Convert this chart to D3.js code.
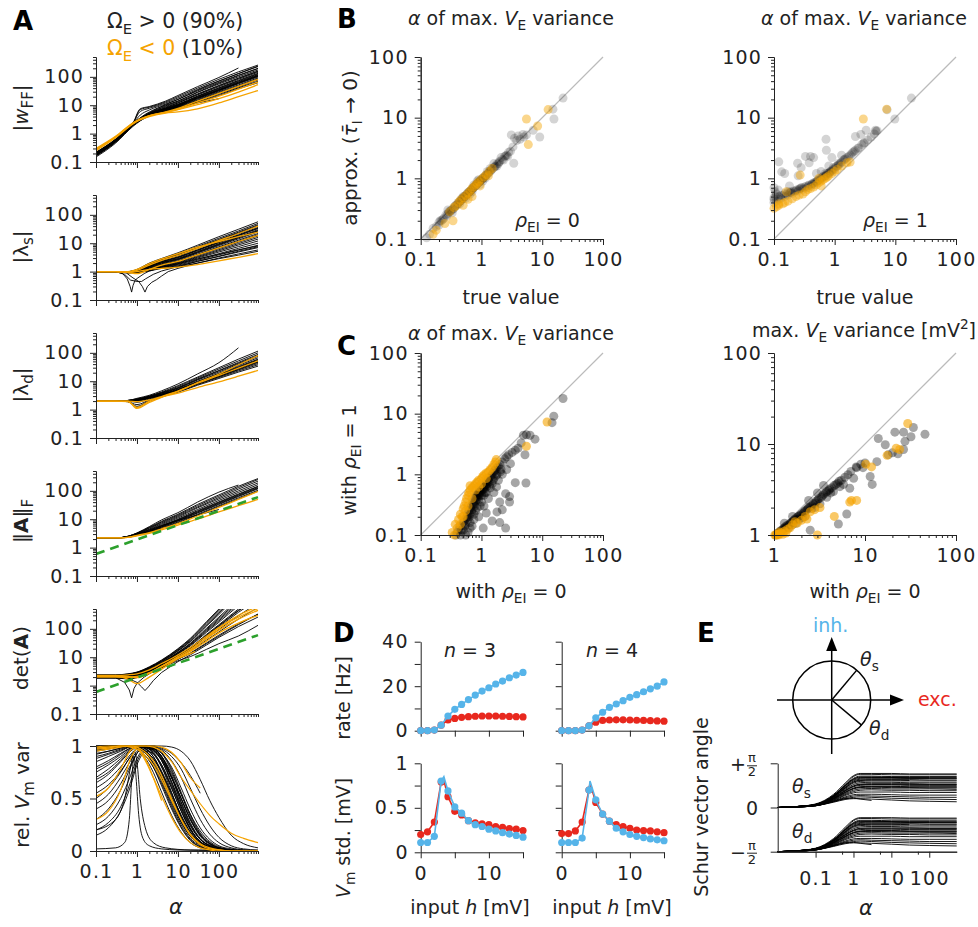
<!DOCTYPE html>
<html><head><meta charset="utf-8">
<script src="https://cdn.jsdelivr.net/npm/d3@7"></script>
<style>body{margin:0;background:#fff}svg{display:block}text{font-family:"DejaVu Sans",sans-serif}</style>
</head><body><svg id="c" width="978" height="927"></svg>
<script>
// ---------------- DATA ----------------
// Panel A grids (alpha values) and curves
const wffGrid=[0.1,0.3,0.8,1.2,2,5,10,30,100,300,900];
const wffBlack=[
[0.2,0.6,2.3,7.5,9,14,22,45,95,205,null],[0.19,0.58,2.2,7,8.5,13,20,40,82,150,260],
[0.21,0.62,2.4,6,7.8,12,18,36,72,130,230],[0.2,0.6,2.3,4.5,6.8,11,16,32,64,115,200],
[0.18,0.55,2.1,3.6,5.8,10,14,28,56,100,175],[0.2,0.6,2.2,3.4,5.2,9,13,25,50,90,160],
[0.17,0.52,2,3.2,5,8.5,12,23,45,82,145],[0.19,0.57,2.2,3.3,5,8,11,21,41,75,133],
[0.22,0.64,2.4,3.5,5,7.8,10.5,20,38,68,120],[0.18,0.54,2.1,3.1,4.6,7.2,10,18.5,35,62,110],
[0.2,0.6,2.2,3.2,4.6,7,9.5,17,32,57,100],[0.16,0.5,1.9,2.9,4.3,6.8,9,16,30,52,92],
[0.21,0.62,2.3,3.3,4.6,6.6,8.8,15,28,48,85],[0.19,0.56,2.1,3,4.3,6.3,8.3,14,26,44,78],
[0.17,0.52,2,2.9,4.1,6,8,13,24,41,70],[0.2,0.58,2.2,3.2,4.4,6.2,8,12.5,22,38,62],
[0.22,0.64,2.4,3.4,4.8,6.5,8.5,12,17,null,null],[0.15,0.46,1.8,2.8,4.5,8,12,24,48,88,155],
[0.18,0.55,2.1,3.3,5.2,9.5,14,29,60,110,195],[0.2,0.6,2.2,3.5,5.5,10.5,16,34,70,130,240],
[0.21,0.6,2.3,3.3,4.8,7.5,10,19,36,65,115],[0.17,0.5,2,3,4.4,6.9,9.2,17.5,33,59,105],
[0.19,0.56,2.2,3.2,4.7,7.2,9.7,18,34,61,108],[0.2,0.58,2.2,3.3,4.9,7.6,10.5,20.5,40,72,128]];
const wffOrange=[
[0.3,0.8,2.4,3.3,4.3,5.5,7,10.5,17,29,53],[0.28,0.75,2.3,3.1,4,5.3,5.8,7.5,12,20,33],
[0.27,0.76,2.3,3.2,4.2,5.6,7.2,12,21,37,65],[0.25,0.72,2.2,3.1,4.2,5.8,7.8,14,26,46,82]];

const lamGrid=[0.1,0.3,0.6,1,2,4,10,30,100,300,900];
const lsBlack=[
[1,1,1,1.2,2,2.9,4.6,8.5,17,31,57],[1,1,1,1.15,1.9,2.7,4.2,7.7,15,27,50],
[1,1,1,1.1,1.8,2.6,3.9,7.1,13.6,24.6,45],[1,1,0.97,1.1,1.7,2.5,3.6,6.5,12.3,22,40],
[1,1,0.97,1.05,1.6,2.3,3.3,5.9,11.2,20,36],[1,1,0.95,1.05,1.55,2.2,3.1,5.5,10.4,18.5,33],
[1,1,0.95,1.05,1.5,2.1,2.9,5.1,9.6,16.8,30],[1,1,0.95,1,1.45,2,2.7,4.7,8.8,15.4,27],
[1,1,0.95,1,1.4,1.9,2.6,4.5,8.3,14.3,25],[1,1,0.95,1,1.35,1.8,2.4,4.1,7.5,12.8,22],
[1,1,0.95,1,1.3,1.75,2.3,3.9,7,11.7,20],[1,1,0.93,0.98,1.25,1.7,2.2,3.7,6.5,10.8,18],
[1,1,0.93,0.98,1.2,1.6,2.1,3.4,5.9,9.7,16],[1,1,0.93,0.97,1.2,1.55,2,3.2,5.4,8.7,14],
[1,1,0.92,0.95,1.15,1.5,1.9,3,4.9,7.6,12],[1,1,0.92,0.95,1.15,1.45,1.8,2.7,4.3,6.6,10],
[1,1,0.92,0.95,1.1,1.4,1.7,2.5,3.9,5.7,8.5],[1,1,0.92,0.94,1.1,1.35,1.6,2.3,3.4,4.9,7],
[1,1,0.9,0.93,1.05,1.3,1.5,2,2.85,3.8,5.2],[1,1,1,1.1,1.75,2.55,3.75,6.8,13,23,42],
[1,1,0.97,1.05,1.6,2.25,3.2,5.7,10.8,19,34],[1,1,0.96,1.05,1.5,2.05,2.8,4.9,9.2,16,28]];
const lsCusp=[
[[0.1,1],[0.3,1],[0.45,0.85],[0.58,0.55],[0.68,0.3],[0.74,0.19],[0.8,0.32],[0.9,0.5],[1.05,0.6],[1.5,0.85],[2,1.05],[4,1.4],[10,1.9],[30,2.8],[100,4.1],[300,5.9],[900,8]],
[[0.1,1],[0.3,1],[0.55,0.9],[0.8,0.6],[1.1,0.45],[1.35,0.3],[1.57,0.19],[1.8,0.3],[2.3,0.42],[3,0.52],[4,0.7],[5.8,1],[10,1.3],[30,2],[100,3],[300,4.2],[900,5.8]],
[[0.1,1],[0.3,1],[0.5,0.8],[0.7,0.5],[1,0.45],[1.3,0.45],[1.6,0.55],[2.5,0.8],[4,1.05],[10,1.5],[30,2.3],[100,3.5],[300,5.2],[900,7.5]]];
const lsOrange=[
[1,1,1,1.2,1.9,2.8,4.3,7.3,11.5,17,24.5],[1,1,0.95,1,1.2,1.3,1.45,1.75,2.4,3.2,4.3],
[1,1,0.97,1.1,1.7,2.5,3.7,6.6,12.5,22,40],[1,1,0.93,0.85,1.2,1.7,2.3,3.9,6.8,11.5,19]];

const ldBlack=[
[2,2,2.1,2.3,3,4.2,7,14,30,60,115],[2,2,2.1,2.4,3,4,6.5,13,27,52,100],
[2,2,2.1,2.3,2.9,3.9,6,12,24,46,88],[2,2,2,2.2,2.8,3.7,5.6,11,21,40,75],
[2,2,2,2.1,2.7,3.5,5.3,10,19,36,67],[2,2,2,2,2.6,3.4,5,9.5,18,33,60],
[2,2,2,1.8,2.4,3.2,4.8,9,16.5,30,55],[2,2,1.9,1.5,2.2,3,4.5,8.5,15.5,28,50],
[2,2,1.9,1.3,2.1,2.9,4.3,8,14.5,26,46],[2,2,2,2.2,2.7,3.5,5,9,16,28,48],
[2,2,2,2.1,2.6,3.3,4.6,8.2,14.5,25,42],[2,2,2,2,2.5,3.2,4.4,7.7,13.5,23,38],
[2,2,1.95,1.2,2,2.8,4.1,7.2,12.5,21,34],[2,2,2.1,2.5,3.2,4.6,8,18,45,150,null],
[2,2,2.05,2.2,2.8,3.8,5.8,11.5,23,43,80],[2,2,2,2.1,2.6,3.4,4.9,9.2,17,31,57]];
const ldOrange=[
[2,2,2,1.1,1.8,2.7,4.4,9,18,38,80],[2,2,2,1.9,2.2,2.8,3.8,6,9.5,15,24],
[2,2,1.9,1.2,2,2.9,4.5,8.5,16,29,52]];

const afBlack=[
[2.2,2.2,2.5,3.2,5,8,14,30,65,130,250],[2.2,2.2,2.5,3.1,4.8,7.5,13,27,58,115,220],
[2.2,2.2,2.4,3,4.5,7,12,25,52,100,190],[2.2,2.2,2.4,3,4.3,6.5,11,22,46,88,165],
[2.2,2.2,2.4,2.9,4,6,10,20,41,78,145],[2.2,2.2,2.4,2.9,3.8,5.6,9.3,18,37,70,130],
[2.2,2.2,2.4,2.8,3.6,5.3,8.6,16.5,33,63,118],[2.2,2.2,2.3,2.8,3.5,5,8,15,30,57,105],
[2.2,2.2,2.3,2.7,3.4,4.8,7.5,14,28,52,97],[2.2,2.2,2.5,3.3,5.5,9.5,17,40,90,160,null],
[2.2,2.2,2.4,3,4.2,6,9,14,22,null,null],[2.2,2.2,2.4,2.9,3.9,5.8,9.6,19,39,74,140],
[2.2,2.2,2.3,2.8,3.7,5.4,8.9,17,35,66,124],[2.2,2.2,2.5,3.2,5.2,8.5,15,33,72,145,270]];
const afOrange=[[2.2,2.2,2.3,2.7,3.4,4.6,7,13,26,50,95],[2.2,2.2,2.3,2.6,3.2,4.2,6.2,10,18,30,50]];

const detGrid=[0.1,0.3,0.6,1,2,4,10,20,50,100,300,900];
const detBlack=[
[2.4,2.4,2.6,3,4.6,8,20,46,180,500,2500,9000],[2.3,2.3,2.5,2.9,4.3,7.4,18,40,150,400,1900,7000],
[2.25,2.25,2.4,2.8,4.1,7,16.5,35,125,320,1500,5000],[2.2,2.2,2.35,2.7,3.9,6.6,15,31,105,260,1100,3800],
[2.1,2.1,2.25,2.6,3.7,6.2,14,28,90,210,850,2800],[2.05,2.05,2.2,2.5,3.5,5.8,13,25,76,170,650,2000],
[2,2,2.1,2.4,3.3,5.5,12,22,64,140,500,1500],[1.95,1.95,2,2.3,3.2,5.2,11,20,54,115,380,1100],
[1.9,1.9,1.9,2.2,3,4.9,10,18,46,95,290,800],[1.85,1.85,1.8,2.1,2.9,4.6,9.5,16.5,40,78,220,560],
[1.85,1.85,1.75,2,2.8,4.4,8.5,13.5,30,55,140,330],[1.9,1.9,1.7,1.9,2.7,4.2,7.5,10.5,19,30,56,133],
[2,2,1.95,2.25,3.2,5.3,11.5,21,60,130,450,1300],[2.3,2.3,2.45,2.85,4.2,7.2,17,37,135,360,1700,6000],
[2.15,2.15,2.3,2.65,3.8,6.4,14.5,29.5,97,235,950,3300],[2.1,2.1,2.2,2.55,3.6,6,13.5,26.5,83,190,750,2400],
[2.35,2.35,2.55,2.95,4.45,7.7,19,43,165,450,2200,8000],[1.95,1.95,2.05,2.35,3.25,5.35,11.5,21,58,125,430,1250]];
const detCusp=[
[[0.1,2],[0.3,1.9],[0.5,1.3],[0.65,0.7],[0.74,0.37],[0.85,0.8],[1,1.2],[1.5,2],[2,2.6],[4,4.4],[10,8.5],[20,14],[50,32],[100,60],[300,150],[900,330]],
[[0.1,2],[0.3,2],[0.6,1.8],[1,1.3],[1.3,0.9],[1.57,0.67],[1.9,0.9],[2.5,1.5],[4,2.9],[10,7],[20,12],[50,27],[100,50],[300,120],[900,260]]];
const detOrange=[
[2.2,2.1,1.7,1.17,2,3.8,9,17,48,110,300,620],[2.1,2.1,2,2,2.8,4.6,9.5,16,37,72,160,300],
[2.3,2.3,2.4,2.6,3.6,6,12,22,55,110,260,520],[2.25,2.2,2.1,1.9,2.7,4.8,10.5,19,45,90,220,450]];
const detOrangeShort=[[[0.1,2],[0.3,2],[0.6,2],[1,2.1],[2,2.8],[4,4.8],[10,9],[20,13.5],[26,15.7]]];
const greenRef=[[0.1,0.6],[900,60]];

const varGrid=[0.1,0.2,0.4,0.7,1,1.5,2.5,4,7,12,20,35,60,100,200,400,900];
const varBlack=[
[1,1,1,1,1,1,1,1,0.99,0.95,0.86,0.68,0.48,0.32,0.15,0.07,0.03],
[0.98,0.99,1,1,1,1,0.98,0.93,0.8,0.6,0.4,0.22,0.11,0.05,0.02,0.01,0],
[0.97,0.98,0.99,1,1,0.99,0.95,0.87,0.7,0.5,0.31,0.15,0.07,0.03,0.01,0,0],
[0.95,0.97,0.99,1,1,0.98,0.92,0.82,0.62,0.42,0.24,0.11,0.05,0.02,0.01,0,0],
[0.93,0.95,0.98,1,0.99,0.96,0.88,0.75,0.54,0.34,0.18,0.08,0.03,0.01,0,0,0],
[0.9,0.93,0.97,0.99,0.98,0.94,0.84,0.68,0.46,0.27,0.14,0.06,0.02,0.01,0,0,0],
[0.88,0.92,0.96,0.99,0.98,0.92,0.8,0.62,0.4,0.22,0.1,0.04,0.02,0.01,0,0,0],
[0.85,0.9,0.95,0.99,0.97,0.9,0.75,0.56,0.34,0.18,0.08,0.03,0.01,0,0,0,0],
[0.8,0.86,0.93,0.98,0.99,0.95,0.83,0.66,0.44,0.25,0.12,0.05,0.02,0.01,0,0,0],
[0.75,0.82,0.9,0.97,0.99,0.96,0.86,0.7,0.48,0.28,0.14,0.06,0.02,0.01,0,0,0],
[0.7,0.78,0.88,0.96,0.99,0.98,0.9,0.76,0.55,0.34,0.18,0.08,0.03,0.01,0,0,0],
[0.65,0.73,0.85,0.95,0.99,0.99,0.93,0.8,0.6,0.38,0.21,0.09,0.04,0.02,0,0,0],
[0.6,0.68,0.8,0.92,0.98,1,0.96,0.86,0.66,0.44,0.25,0.11,0.05,0.02,0.01,0,0],
[0.55,0.63,0.76,0.9,0.97,1,0.98,0.9,0.72,0.5,0.3,0.14,0.06,0.03,0.01,0,0],
[0.45,0.54,0.7,0.86,0.95,0.99,1,0.94,0.78,0.56,0.35,0.17,0.08,0.03,0.01,0,0],
[0.4,0.48,0.64,0.82,0.93,0.99,0.98,0.9,0.7,0.46,0.26,0.11,0.05,0.02,0,0,0],
[0.25,0.33,0.5,0.72,0.88,0.97,0.98,0.88,0.66,0.42,0.22,0.09,0.04,0.01,0,0,0],
[0.2,0.27,0.42,0.66,0.85,0.95,0.93,0.8,0.56,0.32,0.15,0.06,0.02,0.01,0,0,0],
[0.99,1,1,0.99,0.97,0.92,0.8,0.64,0.42,0.23,0.11,0.04,0.02,0.01,0,0,0],
[1,1,1,1,0.99,0.96,0.88,0.74,0.52,0.32,0.16,0.07,0.03,0.01,0,0,0],
[0.96,0.98,1,1,1,0.99,0.96,0.88,0.7,0.5,0.3,0.15,0.07,0.03,0.01,0,0],
[0.99,1,1,1,1,1,0.99,0.96,0.86,0.7,0.5,0.3,0.16,0.08,0.03,0.01,0],
[0.5,0.6,0.75,0.9,0.97,1,0.97,0.86,0.64,0.4,0.21,0.09,0.04,0.01,0,0,0],
[0.97,0.99,1,1,1,1,1,0.98,0.93,0.84,0.72,0.55,null,null,null,null,null],
[0.78,0.84,0.92,0.98,1,0.98,0.9,0.74,0.5,0.3,0.15,0.06,0.02,0.01,0,0,0],
[0.68,0.75,0.86,0.95,0.99,0.99,0.94,0.82,0.6,0.38,0.2,0.08,0.03,0.01,0,0,0],
[0.15,0.22,0.38,0.62,0.82,0.94,0.97,0.9,0.7,0.47,0.27,0.12,0.05,0.02,0,0,0],
[0.3,0.4,0.58,0.8,0.93,0.99,0.99,0.93,0.76,0.54,0.33,0.16,0.07,0.03,0.01,0,0],
[0.92,0.95,0.98,1,1,1,0.97,0.9,0.74,0.54,0.35,0.19,0.09,0.04,0.01,0,0],
[1,1,1,1,1,1,0.99,0.97,0.9,0.78,0.6,0.4,0.24,0.13,0.05,0.02,0.01]];
const varPeaks=[
[[0.1,0.02],[0.3,0.03],[0.5,0.08],[0.65,0.3],[0.75,0.7],[0.85,0.9],[0.95,0.7],[1.1,0.35],[1.4,0.12],[2,0.05],[4,0.02],[10,0.01],[100,0.005],[900,0.003]],
[[0.1,0.2],[0.3,0.3],[0.5,0.5],[0.7,0.8],[0.85,0.95],[1,0.85],[1.2,0.5],[1.6,0.22],[2.5,0.08],[5,0.03],[20,0.01],[900,0.005]]];
const varOrange=[
[0.3,0.38,0.58,0.88,0.97,0.88,0.7,0.52,0.32,0.17,0.08,0.03,0.01,0,0,0,0],
[0.52,0.6,0.78,0.96,0.99,0.9,0.7,0.48,null,null,null,null,null,null,null,null,null],
[0.95,0.97,0.99,1,1,1,0.99,0.95,0.85,0.7,0.58,0.45,0.34,0.26,0.17,0.12,0.08],
[0.98,0.99,1,1,1,1,1,0.99,0.94,0.84,0.7,0.6,null,null,null,null,null],
[0.99,1,1,0.99,0.97,0.92,0.82,0.68,0.48,0.3,0.16,0.07,0.03,0.01,0,0,0],
[0.97,0.98,1,1,0.99,0.95,0.86,0.72,0.5,0.3,0.15,0.06,0.02,0.01,0,0,0]];

// Panel B / C scatter data: [x, y]
const bLeftBlack=[[0.125,0.105],[0.14,0.12],[0.16,0.15],[0.18,0.16],[0.2,0.19],[0.22,0.2],[0.24,0.22],[0.26,0.25],[0.28,0.26],[0.3,0.28],[0.32,0.3],[0.34,0.31],[0.36,0.34],[0.38,0.36],[0.4,0.37],[0.42,0.4],[0.45,0.42],[0.47,0.45],[0.5,0.46],[0.52,0.5],[0.55,0.52],[0.58,0.54],[0.6,0.58],[0.63,0.6],[0.66,0.62],[0.7,0.66],[0.72,0.7],[0.75,0.71],[0.8,0.75],[0.83,0.8],[0.86,0.82],[0.9,0.85],[0.95,0.9],[1,0.95],[1.05,1],[1.1,1.02],[1.15,1.1],[1.2,1.12],[1.3,1.22],[1.35,1.3],[1.4,1.3],[1.5,1.42],[1.6,1.5],[1.7,1.6],[1.8,1.72],[1.9,1.75],[2,1.9],[2.2,2.05],[2.4,2.3],[2.6,2.4],[2.8,2.7],[3,2.8],[3.4,1.77],[3.1,5.2],[3.5,4.6],[4,5],[4.3,4.4],[4.8,5.3],[5,4.8],[5.5,5.2],[7.1,6.2],[9.1,4.8],[15,13.8],[15.6,9.5],[22,21],[0.33,0.27],[0.55,0.47],[0.75,0.78],[0.9,0.95],[1.25,1.3],[1.8,1.6],[2.3,2],[0.65,0.55],[0.44,0.38],[1.6,1.75],[0.28,0.3],[1.15,1],[2.7,2.3],[0.2,0.17],[0.95,0.8],[1.05,0.9],[1.4,1.45],[2.1,2.2],[0.7,0.6],[0.5,0.5],[0.85,0.9],[3.3,3.3],[3.8,4.2],
[0.21,0.2],[0.23,0.21],[0.27,0.24],[0.29,0.28],[0.31,0.29],[0.35,0.32],[0.37,0.35],[0.41,0.38],[0.43,0.41],[0.46,0.43],[0.48,0.47],[0.51,0.48],[0.54,0.5],[0.57,0.55],[0.61,0.57],[0.64,0.61],[0.68,0.64],[0.73,0.69],[0.78,0.74],[0.82,0.77],[0.88,0.84],[0.93,0.88],[0.98,0.94],[1.08,1.03],[1.18,1.12],[1.28,1.2],[1.45,1.38],[1.65,1.55],[1.95,1.85],[2.5,2.35]];
const bLeftOrange=[[0.16,0.12],[0.18,0.14],[0.25,0.18],[0.34,0.2],[0.3,0.28],[0.35,0.33],[0.38,0.35],[0.42,0.4],[0.45,0.44],[0.5,0.48],[0.55,0.52],[0.6,0.57],[0.65,0.62],[0.7,0.68],[0.75,0.72],[0.8,0.78],[0.85,0.82],[0.9,0.88],[1,0.97],[1.1,1.05],[1.2,1.15],[1.35,1.3],[0.7,0.5],[0.95,0.75],[0.5,0.36],[1.5,1.45],[5.5,9.5],[8.4,7.3],[5.9,3.6],[12.5,13.6],[0.6,0.45],[1.3,1.1]];
const bRightBlack=[[0.1,0.4],[0.1,0.48],[0.11,0.42],[0.11,0.55],[0.12,0.45],[0.12,0.5],[0.13,0.47],[0.14,0.52],[0.15,0.5],[0.16,0.55],[0.17,0.53],[0.18,0.58],[0.2,0.56],[0.21,0.62],[0.22,0.6],[0.24,0.65],[0.25,0.62],[0.27,0.68],[0.3,0.66],[0.32,0.72],[0.35,0.7],[0.38,0.78],[0.4,0.75],[0.43,0.82],[0.46,0.85],[0.5,0.88],[0.53,0.92],[0.56,0.98],[0.6,1],[0.65,1.08],[0.7,1.1],[0.75,1.2],[0.8,1.22],[0.85,1.3],[0.9,1.35],[1,1.45],[1.05,1.55],[1.1,1.6],[1.2,1.7],[1.3,1.85],[1.4,2],[1.5,2.1],[1.6,2.2],[1.8,2.4],[2,2.7],[2.2,2.9],[2.5,3.2],[2.8,3.6],[3.1,3.9],[3.5,4.3],[4,4.8],[4.5,5.4],[4.8,6],[5,6.1],[0.118,0.64],[0.12,1.87],[0.134,1.28],[0.15,1.2],[0.245,1.77],[0.28,1.5],[0.33,2.3],[0.4,2.3],[0.45,2.2],[0.38,1.8],[0.72,4.4],[0.73,2.9],[0.9,2.2],[18.4,21],[9.8,9.5],[7.3,13.5],[2.7,5.3],[2.2,4.9],[3.3,6.2],[4.7,6.2],[0.1,0.7],[0.105,0.6],[0.25,1.1],[0.6,1.3],[1.3,2.4],[0.18,0.75],[0.5,1.2],[0.8,1.6],[0.45,0.8],[0.7,1.2],[0.95,1.5],[1.15,1.75],[0.28,0.7],[0.19,0.6],
[0.1,0.45],[0.105,0.5],[0.13,0.52],[0.15,0.56],[0.17,0.6],[0.19,0.58],[0.23,0.63],[0.26,0.66],[0.29,0.7],[0.34,0.74],[0.37,0.76],[0.42,0.8],[0.48,0.86],[0.52,0.9],[0.58,0.96],[0.62,1.02],[0.68,1.06],[0.72,1.12],[0.78,1.18],[0.83,1.25],[0.88,1.3],[0.95,1.4],[1.15,1.65],[1.25,1.78],[1.45,2.05],[1.7,2.3],[1.9,2.55],[2.1,2.8],[2.4,3.1],[3,3.8]];
const bRightOrange=[[0.1,0.32],[0.11,0.34],[0.12,0.36],[0.14,0.38],[0.15,0.4],[0.17,0.42],[0.2,0.46],[0.23,0.5],[0.26,0.53],[0.3,0.55],[0.33,0.6],[0.36,0.65],[0.4,0.68],[0.45,0.72],[0.5,0.78],[0.55,0.85],[0.6,0.9],[0.65,0.95],[0.7,1],[0.75,1.05],[0.8,1.1],[0.9,1.2],[1,1.3],[1.1,1.4],[1.3,1.6],[1.6,1.8],[1.8,1.85],[0.27,1.13],[0.55,1],[0.6,0.75],[2.97,9.5],[7.2,13.8],[0.16,0.6],[0.12,0.38]];
const cLeftBlack=[[0.38,0.1],[0.42,0.12],[0.45,0.1],[0.48,0.14],[0.5,0.12],[0.52,0.17],[0.55,0.15],[0.58,0.2],[0.6,0.18],[0.62,0.25],[0.65,0.22],[0.68,0.3],[0.7,0.26],[0.72,0.35],[0.75,0.32],[0.78,0.4],[0.8,0.36],[0.82,0.45],[0.85,0.42],[0.88,0.5],[0.9,0.46],[0.93,0.55],[0.95,0.5],[1,0.6],[1.05,0.56],[1.1,0.68],[1.15,0.64],[1.2,0.75],[1.25,0.7],[1.3,0.85],[1.4,0.9],[1.5,1],[1.6,1.1],[1.7,1.2],[1.8,1.3],[2,1.45],[2.2,1.6],[2.4,1.8],[2.6,1.95],[2.8,2.1],[3.2,2.3],[3.6,2.5],[4,2.7],[4.5,3.3],[4.9,4.4],[5.2,2.1],[6.3,4.4],[7.6,3.8],[5.5,4.5],[14.5,7.1],[15.5,9.1],[22,17.8],[3.6,0.73],[5.4,0.72],[2.9,0.43],[2.5,0.48],[2.9,0.35],[2,0.35],[2.2,0.26],[1.8,0.24],[1.5,0.17],[2,0.16],[2.5,0.13],[1.07,0.13],[1.2,0.23],[0.95,0.3],[1.77,0.62],[1.3,0.4],[1.6,0.5],[1.1,0.3],[0.9,0.2],[0.7,0.14],[1.4,0.6],[1.2,0.5],[1,0.35],[0.8,0.25],[0.6,0.11],[2.6,1.2],[3,1.5],[2.2,1],[1.9,0.8],[0.55,0.1],[0.65,0.13],[0.75,0.18],[0.85,0.28],[1,0.45],[1.15,0.5],[1.35,0.75],[1.6,0.85],[1.5,0.7],[1.8,1],[2.1,1.2],[0.9,0.38],[1.1,0.45],[0.75,0.22],[0.65,0.16],
[0.4,0.11],[0.44,0.14],[0.47,0.12],[0.5,0.16],[0.53,0.14],[0.56,0.19],[0.59,0.22],[0.63,0.2],[0.66,0.28],[0.69,0.24],[0.73,0.33],[0.77,0.3],[0.8,0.42],[0.84,0.38],[0.87,0.47],[0.92,0.44],[0.96,0.53],[1.02,0.5],[1.08,0.6],[1.12,0.58],[1.18,0.68],[1.22,0.62],[1.28,0.8],[1.35,0.66],[1.45,0.95],[1.55,0.8],[1.65,1.15],[1.75,0.95],[1.9,1.35],[2.05,1.1]];
const cLeftOrange=[[0.33,0.11],[0.36,0.1],[0.37,0.15],[0.4,0.13],[0.42,0.18],[0.45,0.22],[0.48,0.2],[0.5,0.27],[0.52,0.3],[0.55,0.35],[0.57,0.4],[0.6,0.45],[0.62,0.5],[0.65,0.55],[0.7,0.6],[0.75,0.65],[0.8,0.7],[0.85,0.75],[0.9,0.8],[1,0.85],[1.05,0.92],[1.1,0.98],[1.2,1.05],[1.3,1.1],[1.4,1.2],[1.5,1.3],[1.6,1.45],[1.7,1.6],[1.75,1.75],[0.55,0.25],[0.6,0.3],[0.7,0.4],[0.8,0.55],[0.9,0.62],[1,0.7],[0.45,0.15],[0.5,0.2],[12,7.3],[5.5,2.9],[0.65,0.65],[1.2,0.85]];
const cRightBlack=[[1.05,1],[1.1,1.05],[1.15,1.08],[1.2,1.12],[1.25,1.15],[1.3,1.2],[1.35,1.25],[1.4,1.28],[1.5,1.35],[1.6,1.4],[1.7,1.5],[1.8,1.55],[1.9,1.62],[2,1.7],[2.1,1.75],[2.2,1.85],[2.3,1.9],[2.4,2],[2.5,2.05],[2.7,2.2],[2.9,2.35],[3.1,2.5],[3.3,2.6],[3.5,2.8],[3.8,3],[4,3.1],[4.3,3.3],[4.6,3.5],[5,3.7],[5.5,4],[6,4.3],[6.5,4.6],[7,5],[8,5.6],[9,6],[10,6.2],[3.2,2.2],[2.6,1.95],[1.9,1.5],[1.6,1.3],[2.2,1.6],[3.8,2.6],[4.5,3],[5.3,3.4],[45.6,12.8],[34,15.2],[26.5,13.5],[32,12],[27.5,10.7],[26.5,8.7],[23,7.8],[14,11.5],[16.7,9.8],[21.3,13.5],[13.5,6.4],[8.1,5.5],[11.4,4.4],[12,3.6],[6.8,3.26],[6.3,1.7],[5.1,1.32],[2.5,1.13],[20,8],[18,7.6],[7.5,4.2],[9.5,5.5],[1.6,1.6],[2.4,2.4],[3.5,3.5],[3,2.9],[1.3,1.35],[1.45,1.2],[1.75,1.35],[2.05,1.55],[2.8,2],[4.2,2.9],[5.8,3.6],
[1.08,1.03],[1.18,1.1],[1.28,1.18],[1.38,1.22],[1.48,1.3],[1.55,1.37],[1.65,1.45],[1.75,1.48],[1.85,1.6],[1.95,1.65],[2.15,1.8],[2.35,1.95],[2.6,2.1],[2.85,2.25],[3,2.4],[3.4,2.7],[3.7,2.9],[4.1,3.2],[4.8,3.6],[5.2,3.9]];
const cRightOrange=[[1.02,1],[1.05,1],[1.08,1.01],[1.1,1.02],[1.12,1],[1.15,1.03],[1.2,1.05],[1.25,1.02],[1.3,1.1],[1.4,1.15],[1.5,1.2],[1.6,1.3],[1.7,1.4],[1.8,1.35],[2,1.45],[2.2,1.6],[2.5,1.8],[2.8,1.9],[3.2,2],[4.6,1.6],[3,1],[7.1,2.4],[6.8,2.3],[8.1,2.4],[10.2,6],[11.8,5.6],[17.5,7.5],[22,9],[24,8.7],[29.5,16.8],[1.15,1.08],[1.35,1.05],[2.3,1.5]];

// Panel D: input h [mV] and responses
const hInput=[0,1,2,3,4,5,6,7,8,9,10,11,12,13,14,15];
const rateInh3=[0,0,0.3,2.5,6.6,9.6,11.8,14,16,17.8,19.3,21,22.3,23.8,25,26.2];
const rateExc3=[0,0,0.3,2.5,4.8,5.5,6,6.3,6.5,6.6,6.6,6.6,6.5,6.4,6.3,6.2];
const rateInh4=[0,0,0,0.3,2.2,5.8,8.3,10.5,12,13.5,15,16.2,17.5,18.8,20,21.9];
const rateExc4=[0,0,0,0.3,2.2,3.8,4.6,4.8,4.9,4.9,4.8,4.7,4.6,4.5,4.4,4.3];
const stdExc3=[0.2,0.23,0.34,0.79,0.625,0.46,0.42,0.355,0.33,0.32,0.31,0.29,0.28,0.265,0.26,0.245];
const stdInh3=[0.11,0.11,0.18,0.8,0.69,0.51,0.44,0.355,0.31,0.29,0.26,0.24,0.22,0.205,0.19,0.17];
const stdExc4=[0.21,0.21,0.24,0.34,0.7,0.56,0.43,0.35,0.31,0.29,0.27,0.25,0.245,0.24,0.23,0.22];
const stdInh4=[0.11,0.11,0.11,0.16,0.7,0.59,0.43,0.35,0.27,0.23,0.2,0.18,0.165,0.15,0.14,0.13];
const peakH3=3.4, peakExc3=0.81, peakInh3=0.85, peakH4=4.15, peakExc4=0.78, peakInh4=0.8;

// Panel E: Schur angle theta_s in units of pi/2 (theta_d = theta_s - pi/2)
const schurGrid=[0.01,0.03,0.1,0.3,0.6,1,1.5,3,10,30,100,530];
const thetaS=[
[0,0.02,0.08,0.3,0.55,0.72,0.77,0.77,0.77,0.76,0.76,0.76],[0,0.02,0.07,0.28,0.52,0.7,0.75,0.75,0.74,0.74,0.74,0.74],
[0,0.02,0.07,0.27,0.5,0.66,0.71,0.71,0.7,0.7,0.7,0.7],[0,0.02,0.07,0.26,0.48,0.62,0.66,0.67,0.67,0.66,0.66,0.66],
[0,0.02,0.06,0.25,0.45,0.58,0.62,0.63,0.63,0.63,0.62,0.62],[0,0.02,0.06,0.24,0.43,0.55,0.59,0.6,0.6,0.6,0.6,0.6],
[0,0.02,0.06,0.23,0.41,0.52,0.56,0.57,0.57,0.56,0.56,0.56],[0,0.02,0.06,0.22,0.39,0.49,0.53,0.54,0.54,0.54,0.53,0.53],
[0,0.02,0.05,0.21,0.37,0.47,0.5,0.51,0.51,0.5,0.5,0.5],[0,0.02,0.05,0.2,0.35,0.44,0.47,0.48,0.48,0.47,0.47,0.47],
[0,0.01,0.05,0.19,0.33,0.42,0.45,0.46,0.45,0.45,0.44,0.44],[0,0.01,0.05,0.18,0.31,0.39,0.42,0.43,0.42,0.42,0.42,0.41],
[0,0.01,0.05,0.17,0.29,0.36,0.39,0.4,0.39,0.39,0.38,0.38],[0,0.01,0.04,0.16,0.27,0.33,0.35,0.35,0.35,0.34,0.34,0.34],
[0,0.01,0.04,0.15,0.24,0.29,0.3,0.3,0.29,0.28,0.28,0.28],[0,0.01,0.04,0.14,0.22,0.26,0.27,0.26,0.25,0.24,0.23,0.23],
[0,0.01,0.04,0.13,0.2,0.23,0.24,0.23,0.21,0.2,0.19,0.18],[0,0.01,0.04,0.12,0.18,0.2,0.2,0.19,0.17,0.15,0.14,0.13],
[0,0.01,0.04,0.14,0.2,0.21,0.19,0.16,null,null,null,null],[0,0.02,0.07,0.27,0.49,0.64,0.69,0.69,0.68,0.67,0.67,null],
[0,0.02,0.06,0.24,0.44,0.57,0.61,0.62,0.62,0.61,null,null],[0,0.02,0.06,0.25,0.46,0.6,0.64,0.65,0.65,0.65,0.65,0.65],
[0,0.02,0.05,0.21,0.38,0.48,0.52,0.52,0.52,0.52,0.52,0.52],[0,0.02,0.07,0.26,0.5,0.64,0.68,0.68,0.68,0.68,0.68,0.68],
[0,0.01,0.05,0.2,0.34,0.43,0.46,0.47,0.47,0.46,0.46,0.46]];

// ---------------- DRAWING ----------------
const INK="#222", ORANGE="#f5a300", RED="#e8281e", BLUE="#56b4e9", GREEN="#2ca02c";
const FONT='"DejaVu Sans", sans-serif';
const TICK=19, LAB=19;
const svg=d3.select("#c");

function rich(parent,x,y,parts,o={}){
  const size=o.size||LAB;
  const t=parent.append("text").attr("x",x).attr("y",y).attr("font-size",size)
    .attr("text-anchor",o.anchor||"start").attr("fill",o.fill||INK);
  if(o.rotate) t.attr("transform",`rotate(-90 ${x} ${y})`);
  let shift=0;
  const sub=o.subScale||0.72;
  parts.forEach(p=>{
    const s=t.append("tspan").text(p.t);
    const target=p.sub?Math.round(size*0.27):p.sup?-Math.round(size*0.42):0;
    if(target!==shift){s.attr("dy",target-shift);shift=target;}
    if(p.sub||p.sup) s.attr("font-size",size*sub);
    if(p.i) s.attr("font-style","italic");
    if(p.b) s.attr("font-weight","bold");
    if(p.c) s.attr("fill",p.c);
  });
  return t;
}
function styleAxis(g,labSize){
  g.attr("font-family",null).attr("font-size",null);
  g.selectAll("path.domain").attr("stroke",INK).attr("stroke-width",1);
  g.selectAll(".tick line").attr("stroke",INK).attr("stroke-width",1);
  g.selectAll(".tick text").attr("fill",INK).attr("font-size",labSize||TICK).attr("font-family",FONT).attr("letter-spacing",1.2);
}
const isPow10=v=>Math.abs(Math.log10(v)-Math.round(Math.log10(v)))<1e-9;
function logTicks(s){const [a,b]=s.domain();return s.ticks().filter(v=>v>=a*0.999&&v<=b*1.001);}
function logAxis(parent,scale,side,pos,labels,majorLen=6,minorLen=3){
  const all=logTicks(scale), major=all.filter(isPow10), minor=all.filter(v=>!isPow10(v));
  const mk=side==="left"?d3.axisLeft:d3.axisBottom;
  const tr=side==="left"?`translate(${pos},0)`:`translate(0,${pos})`;
  const g1=parent.append("g").attr("transform",tr).call(mk(scale).tickValues(minor).tickSize(minorLen).tickSizeOuter(0).tickFormat(""));
  const g2=parent.append("g").attr("transform",tr).call(mk(scale).tickValues(major).tickSize(majorLen).tickSizeOuter(0).tickPadding(side==="left"?6:8).tickFormat(labels?(v=>String(+v.toPrecision(3))):""));
  styleAxis(g1);styleAxis(g2);
}
let clipN=0;
function clipRect(x0,y0,x1,y1){const id="clip"+(clipN++);svg.append("clipPath").attr("id",id).append("rect").attr("x",x0).attr("y",y0).attr("width",x1-x0).attr("height",y1-y0);return `url(#${id})`;}

// ---------- Panel A ----------
const aX=d3.scaleLog().domain([0.1,900]).range([96,258]);
const aPanels=[
 {b:162,grid:wffGrid,black:wffBlack,orange:wffOrange,cusp:[],lab:[{t:"|"},{t:"w",i:1},{t:"FF",sub:1},{t:"|"}],lc:108},
 {b:300,grid:lamGrid,black:lsBlack,orange:lsOrange,cusp:lsCusp,lab:[{t:"|λ"},{t:"s",sub:1},{t:"|"}],lc:247},
 {b:438,grid:lamGrid,black:ldBlack,orange:ldOrange,cusp:[],lab:[{t:"|λ"},{t:"d",sub:1},{t:"|"}],lc:385},
 {b:576,grid:lamGrid,black:afBlack,orange:afOrange,cusp:[],green:true,lab:[{t:"‖"},{t:"A",b:1},{t:"‖"},{t:"F",sub:1}],lc:521},
 {b:714,grid:detGrid,black:detBlack,orange:detOrange,cusp:detCusp,orangeShort:detOrangeShort,green:true,lab:[{t:"det("},{t:"A",b:1},{t:")"}],lc:658}];
aPanels.forEach(p=>{
  const y=d3.scaleLog().domain([0.1,500]).range([p.b,p.b-105]);
  const g=svg.append("g").attr("clip-path",clipRect(96,p.b-105,259,p.b));
  const smooth=d3.line().defined(d=>d[1]!=null).x(d=>aX(d[0])).y(d=>y(d[1])).curve(d3.curveMonotoneX);
  const lin=d3.line().x(d=>aX(d[0])).y(d=>y(d[1]));
  const toPts=v=>p.grid.map((a,j)=>[a,v[j]]);
  p.black.forEach(v=>g.append("path").attr("d",smooth(toPts(v))).attr("fill","none").attr("stroke","#000").attr("stroke-width",0.9));
  p.cusp.forEach(c=>g.append("path").attr("d",lin(c)).attr("fill","none").attr("stroke","#000").attr("stroke-width",0.9));
  p.orange.forEach(v=>g.append("path").attr("d",smooth(toPts(v))).attr("fill","none").attr("stroke",ORANGE).attr("stroke-width",1.3));
  (p.orangeShort||[]).forEach(c=>g.append("path").attr("d",smooth(c)).attr("fill","none").attr("stroke",ORANGE).attr("stroke-width",1.3));
  if(p.green) g.append("path").attr("d",lin(greenRef)).attr("fill","none").attr("stroke",GREEN).attr("stroke-width",2.6).attr("stroke-dasharray","9,6");
  logAxis(svg,y,"left",96,true);
  logAxis(svg,aX,"bottom",p.b,false);
  rich(svg,28,p.lc,p.lab,{rotate:true,anchor:"middle",size:20,subScale:0.75});
});
{ // relative Vm variance
  const y=d3.scaleLinear().domain([0,1]).range([851,746]);
  const g=svg.append("g");
  const smooth=d3.line().defined(d=>d[1]!=null).x(d=>aX(d[0])).y(d=>y(d[1])).curve(d3.curveMonotoneX);
  const toPts=v=>varGrid.map((a,j)=>[a,v[j]]);
  varBlack.forEach(v=>g.append("path").attr("d",smooth(toPts(v))).attr("fill","none").attr("stroke","#000").attr("stroke-width",0.9));
  varPeaks.forEach(c=>g.append("path").attr("d",smooth(c)).attr("fill","none").attr("stroke","#000").attr("stroke-width",0.9));
  varOrange.forEach(v=>g.append("path").attr("d",smooth(toPts(v))).attr("fill","none").attr("stroke",ORANGE).attr("stroke-width",1.2));
  const ya=svg.append("g").attr("transform","translate(96,0)").call(d3.axisLeft(y).tickValues([0,0.5,1]).tickSize(6).tickPadding(6).tickSizeOuter(0).tickFormat(d=>String(d)));
  styleAxis(ya);
  logAxis(svg,aX,"bottom",851,true);
  rich(svg,29,795,[{t:"rel. "},{t:"V",i:1},{t:"m",sub:1},{t:" var"}],{rotate:true,anchor:"middle",size:20,subScale:0.75});
  rich(svg,176,914,[{t:"α",i:1}],{anchor:"middle",size:21});
}
rich(svg,107,28,[{t:"Ω"},{t:"E",sub:1},{t:" > 0 (90%)"}],{size:20.5});
rich(svg,107,55,[{t:"Ω",c:ORANGE},{t:"E",sub:1,c:ORANGE},{t:" < 0",c:ORANGE},{t:" (10%)"}],{size:20.5});

// ---------- Panels B, C ----------
function scatterPanel(o){
  const x=d3.scaleLog().domain(o.dom).range([o.x0,o.x1]);
  const y=d3.scaleLog().domain(o.dom).range([o.y1,o.y0]);
  svg.append("line").attr("x1",x(o.dom[0])).attr("y1",y(o.dom[0])).attr("x2",x(o.dom[1])).attr("y2",y(o.dom[1])).attr("stroke","#bbb").attr("stroke-width",1.2);
  const g=svg.append("g");
  g.selectAll("c.k").data(o.black).join("circle").attr("cx",d=>x(d[0])).attr("cy",d=>y(d[1])).attr("r",4.5).attr("fill","#000").attr("fill-opacity",o.ka);
  g.selectAll("c.o").data(o.orange).join("circle").attr("cx",d=>x(d[0])).attr("cy",d=>y(d[1])).attr("r",4.5).attr("fill",ORANGE).attr("fill-opacity",o.oa);
  logAxis(svg,y,"left",o.x0,true);
  logAxis(svg,x,"bottom",o.y1,true);
}
scatterPanel({dom:[0.1,100],x0:420.7,x1:603,y0:57,y1:239,black:bLeftBlack,orange:bLeftOrange,ka:0.17,oa:0.45});
scatterPanel({dom:[0.1,100],x0:774,x1:956,y0:57,y1:239,black:bRightBlack,orange:bRightOrange,ka:0.17,oa:0.45});
scatterPanel({dom:[0.1,100],x0:420.7,x1:603,y0:353,y1:535,black:cLeftBlack,orange:cLeftOrange,ka:0.35,oa:0.6});
scatterPanel({dom:[1,100],x0:774,x1:956,y0:353,y1:535,black:cRightBlack,orange:cRightOrange,ka:0.35,oa:0.6});
const titleAlpha=[{t:"α",i:1},{t:" of max. "},{t:"V",i:1},{t:"E",sub:1},{t:" variance"}];
rich(svg,511,25,titleAlpha,{anchor:"middle"});
rich(svg,864,25,titleAlpha,{anchor:"middle"});
rich(svg,511,340,titleAlpha,{anchor:"middle"});
rich(svg,864,337,[{t:"max. "},{t:"V",i:1},{t:"E",sub:1},{t:" variance [mV"},{t:"2",sup:1},{t:"]"}],{anchor:"middle"});
rich(svg,511,304,[{t:"true value"}],{anchor:"middle"});
rich(svg,865,304,[{t:"true value"}],{anchor:"middle"});
const withRho0=[{t:"with "},{t:"ρ",i:1},{t:"EI",sub:1},{t:" = 0"}];
rich(svg,511,598,withRho0,{anchor:"middle"});
rich(svg,865,598,withRho0,{anchor:"middle"});
rich(svg,357,148,[{t:"approx. ("},{t:"τ̄",i:1},{t:"I",sub:1},{t:" → 0)"}],{rotate:true,anchor:"middle",size:20});
rich(svg,356,460,[{t:"with "},{t:"ρ",i:1},{t:"EI",sub:1},{t:" = 1"}],{rotate:true,anchor:"middle"});
rich(svg,515,227,[{t:"ρ",i:1},{t:"EI",sub:1},{t:" = 0"}]);
rich(svg,863,227,[{t:"ρ",i:1},{t:"EI",sub:1},{t:" = 1"}]);

// ---------- Panel D ----------
function dPanel(o){
  const x=d3.scaleLinear().domain([0,15]).range([o.x0,o.x0+102.3]);
  const y=d3.scaleLinear().domain(o.ydom).range([o.y1,o.y0]);
  const g=svg.append("g");
  const ya=g.append("g").attr("transform",`translate(${o.x0},0)`).call(d3.axisLeft(y).tickValues(o.yt).tickSize(6).tickPadding(6).tickSizeOuter(0).tickFormat(o.ylab?(d=>o.ylabVals.includes(d)?String(d):""):""));
  const xa=g.append("g").attr("transform",`translate(0,${o.y1})`).call(d3.axisBottom(x).tickValues([0,5,10,15]).tickSize(6).tickPadding(8).tickSizeOuter(0).tickFormat(o.xlab?(d=>d===0||d===10?String(d):""):""));
  styleAxis(ya);styleAxis(xa);
  const line=d3.line().x(d=>x(d[0])).y(d=>y(d[1]));
  o.series.forEach(s=>{
    const pts=hInput.map((h,i)=>[h,s.v[i]]);
    const lpts=s.peak?pts.concat([s.peak]).sort((a,b)=>a[0]-b[0]):pts;
    g.append("path").attr("d",line(lpts)).attr("fill","none").attr("stroke",s.c).attr("stroke-width",1.6);
    g.selectAll(null).data(pts).join("circle").attr("cx",d=>x(d[0])).attr("cy",d=>y(d[1])).attr("r",3.6).attr("fill",s.c);
  });
}
dPanel({x0:420.7,y0:641.7,y1:730.7,ydom:[0,40],yt:[0,10,20,30,40],ylab:true,ylabVals:[0,20,40],xlab:false,series:[{v:rateExc3,c:RED},{v:rateInh3,c:BLUE}]});
dPanel({x0:561.7,y0:641.7,y1:730.7,ydom:[0,40],yt:[0,10,20,30,40],ylab:false,xlab:false,series:[{v:rateExc4,c:RED},{v:rateInh4,c:BLUE}]});
dPanel({x0:420.7,y0:763.3,y1:852.3,ydom:[0,1],yt:[0,0.25,0.5,0.75,1],ylab:true,ylabVals:[0,0.5,1],xlab:true,series:[{v:stdExc3,c:RED,peak:[peakH3,peakExc3]},{v:stdInh3,c:BLUE,peak:[peakH3,peakInh3]}]});
dPanel({x0:561.7,y0:763.3,y1:852.3,ydom:[0,1],yt:[0,0.25,0.5,0.75,1],ylab:false,xlab:true,series:[{v:stdExc4,c:RED,peak:[peakH4,peakExc4]},{v:stdInh4,c:BLUE,peak:[peakH4,peakInh4]}]});
rich(svg,470,657,[{t:"n",i:1},{t:" = 3"}],{anchor:"middle"});
rich(svg,612,657,[{t:"n",i:1},{t:" = 4"}],{anchor:"middle"});
rich(svg,350,698,[{t:"rate [Hz]"}],{rotate:true,anchor:"middle"});
rich(svg,350,838,[{t:"V",i:1},{t:"m",sub:1},{t:" std. [mV]"}],{rotate:true,anchor:"middle"});
rich(svg,470,914,[{t:"input "},{t:"h",i:1},{t:" [mV]"}],{anchor:"middle"});
rich(svg,612,914,[{t:"input "},{t:"h",i:1},{t:" [mV]"}],{anchor:"middle"});

// ---------- Panel E ----------
{
  const cx=831.7, cy=700, r=39;
  const g=svg.append("g").attr("stroke","#000").attr("stroke-width",1.5).attr("fill","none");
  g.append("circle").attr("cx",cx).attr("cy",cy).attr("r",r);
  g.append("line").attr("x1",cx).attr("y1",754).attr("x2",cx).attr("y2",648);
  g.append("line").attr("x1",777).attr("y1",cy).attr("x2",892).attr("y2",cy);
  svg.append("path").attr("d",`M${cx},637 L${cx-5.5},651 L${cx+5.5},651 Z`).attr("fill","#000");
  svg.append("path").attr("d",`M904,${cy} L890,${cy-5.5} L890,${cy+5.5} Z`).attr("fill","#000");
  const a1=50*Math.PI/180, a2=-40*Math.PI/180;
  g.append("line").attr("x1",cx).attr("y1",cy).attr("x2",cx+r*Math.cos(a1)).attr("y2",cy-r*Math.sin(a1));
  g.append("line").attr("x1",cx).attr("y1",cy).attr("x2",cx+r*Math.cos(a2)).attr("y2",cy-r*Math.sin(a2));
  rich(svg,860,666,[{t:"θ",i:1},{t:"s",sub:1}]);
  rich(svg,869,735,[{t:"θ",i:1},{t:"d",sub:1}]);
  rich(svg,813,632,[{t:"inh."}],{fill:BLUE});
  rich(svg,918,706,[{t:"exc."}],{fill:RED});

  const x=d3.scaleLog().domain([0.01,530]).range([777.7,956.7]);
  const y=d3.scaleLinear().domain([-1,1]).range([851.7,763.3]);
  const line=d3.line().defined(d=>d[1]!=null).x(d=>x(d[0])).y(d=>y(d[1])).curve(d3.curveMonotoneX);
  const lg=svg.append("g");
  thetaS.forEach(v=>{
    lg.append("path").attr("d",line(schurGrid.map((a,j)=>[a,v[j]]))).attr("fill","none").attr("stroke","#000").attr("stroke-width",0.9);
    lg.append("path").attr("d",line(schurGrid.map((a,j)=>[a,v[j]==null?null:v[j]-1]))).attr("fill","none").attr("stroke","#000").attr("stroke-width",0.9);
  });
  const ya=svg.append("g").attr("transform","translate(777.7,0)").call(d3.axisLeft(y).tickValues([-1,0,1]).tickSize(7).tickSizeOuter(0).tickFormat(""));
  styleAxis(ya);
  const xa1=svg.append("g").attr("transform","translate(0,851.7)").call(d3.axisBottom(x).tickValues([0.5,5,50]).tickSize(3).tickSizeOuter(0).tickFormat(""));
  const xa2=svg.append("g").attr("transform","translate(0,851.7)").call(d3.axisBottom(x).tickValues([0.1,1,10,100]).tickSize(6).tickPadding(14).tickSizeOuter(0).tickFormat(d=>String(d)));
  styleAxis(xa1);styleAxis(xa2);
  const fr=(sign,yc)=>{
    rich(svg,738,yc+7,[{t:sign}],{anchor:"middle"});
    rich(svg,752,yc-2,[{t:"π"}],{anchor:"middle",size:13});
    svg.append("line").attr("x1",747).attr("x2",757).attr("y1",yc+1.5).attr("y2",yc+1.5).attr("stroke",INK).attr("stroke-width",1);
    rich(svg,752,yc+12,[{t:"2"}],{anchor:"middle",size:13});
  };
  fr("+",y(1)+1); fr("−",y(-1));
  rich(svg,758,y(0)+7,[{t:"0"}],{anchor:"end",size:TICK});
  rich(svg,792,793,[{t:"θ",i:1},{t:"s",sub:1}]);
  rich(svg,792,838,[{t:"θ",i:1},{t:"d",sub:1}]);
  rich(svg,708,807,[{t:"Schur vector angle"}],{rotate:true,anchor:"middle"});
  rich(svg,866,915,[{t:"α",i:1}],{anchor:"middle",size:21});
}

// ---------- Panel letters ----------
[["A",13,30],["B",337,28],["C",337,355],["D",333,642],["E",697,642]].forEach(([t,x,y])=>
  svg.append("text").attr("x",x).attr("y",y).attr("font-size",26).attr("font-weight","bold").attr("font-family","'Liberation Sans', Arial, sans-serif").attr("fill","#000").text(t));
</script></body></html>
